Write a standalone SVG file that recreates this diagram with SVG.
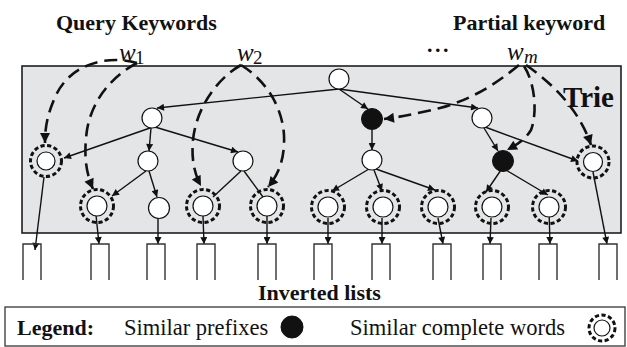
<svg xmlns="http://www.w3.org/2000/svg" width="627" height="347" viewBox="0 0 627 347">
<style>
.t{font-family:"Liberation Serif","Times New Roman",serif;fill:#111}
.bt{font-weight:bold}
.n{fill:#fff;stroke:#111;stroke-width:1.2}
.bk{fill:#111;stroke:#111;stroke-width:1}
.ring{fill:none;stroke:#111;stroke-width:3;stroke-dasharray:4.2 2.5}
.e{stroke:#111;stroke-width:1.4;fill:none;marker-end:url(#a)}
.ln{stroke:#111;stroke-width:1.4;fill:none}
.q{stroke:#111;stroke-width:2.6;fill:none;stroke-dasharray:13 7;marker-end:url(#qa)}
.box{fill:none;stroke:#333;stroke-width:1.4}
</style>
<defs>
<marker id="a" viewBox="0 0 10 10" refX="10" refY="5" markerWidth="9" markerHeight="7" markerUnits="userSpaceOnUse" orient="auto"><path d="M0,0 L10,5 L0,10 z" fill="#111"/></marker>
<marker id="qa" viewBox="0 0 10 10" refX="10" refY="5" markerWidth="11" markerHeight="10" markerUnits="userSpaceOnUse" orient="auto"><path d="M0,0 L10,5 L0,10 z" fill="#111"/></marker>
</defs>
<rect width="627" height="347" fill="#fff"/>
<rect x="22" y="66" width="599" height="167" fill="#e4e5e7" stroke="#111" stroke-width="1.5"/>
<text class="t bt" x="56" y="30" font-size="22">Query Keywords</text>
<text class="t bt" x="453" y="30" font-size="22">Partial keyword</text>
<text class="t bt" x="427" y="52" font-size="22" letter-spacing="2.5">...</text>
<text class="t bt" x="563" y="107" font-size="29">Trie</text>
<g id="w1"><text class="t" x="119" y="61" font-size="25" font-style="italic">w</text><text class="t" x="135" y="64" font-size="19">1</text></g>
<g id="w2"><text class="t" x="237" y="61" font-size="25" font-style="italic">w</text><text class="t" x="253" y="64" font-size="19">2</text></g>
<g id="wm"><text class="t" x="507" y="60" font-size="25" font-style="italic">w</text><text class="t" x="524" y="63" font-size="19" font-style="italic">m</text></g>
<g id="connectors">
<path class="e" d="M339,89 L157,108"/>
<path class="e" d="M339,89 L368,109"/>
<path class="e" d="M339,89 L478,108"/>
<path class="e" d="M150,128 L64,158"/>
<path class="e" d="M151,128 L149,151"/>
<path class="e" d="M155,127 L238,152"/>
<path class="e" d="M372,130 L372,150"/>
<path class="e" d="M484,128 L498,151"/>
<path class="e" d="M485,127 L578,161"/>
<path class="e" d="M146,171 L112,196"/>
<path class="e" d="M149,171 L157,197"/>
<path class="ln" d="M241,171 L213,197"/>
<path class="ln" d="M244,171 L263,197"/>
<path class="e" d="M369,169 L332,191"/>
<path class="e" d="M374,170 L382,191"/>
<path class="e" d="M376,169 L435,190"/>
<path class="e" d="M501,170 L486,192"/>
<path class="e" d="M506,170 L548,195"/>
<path class="e" d="M44,177 L35,250"/>
<path class="e" d="M96,215 L99,244"/>
<path class="e" d="M158,218 L158,244"/>
<path class="e" d="M203,216 L204,244"/>
<path class="e" d="M267,216 L267,244"/>
<path class="e" d="M328,218 L328,244"/>
<path class="e" d="M382,218 L382,244"/>
<path class="e" d="M438,218 L443,244"/>
<path class="e" d="M491,218 L490,244"/>
<path class="e" d="M549,210 L550,244"/>
<path class="e" d="M593,172 L607,244"/>
<path class="q" d="M137,63 C110,55 72,62 56,95 C48,113 45,125 45,143"/>
<path class="q" d="M137,63 C112,76 92,100 87,130 C83,158 87,175 93,189"/>
<path class="q" d="M241,65 C215,80 196,110 193,140 C191,160 195,175 201,186"/>
<path class="q" d="M241,65 C265,80 282,105 284,135 C285,160 278,175 268,187"/>
<path class="q" d="M519,65 C495,85 470,100 440,108 C415,114 400,117 384,119"/>
<path class="q" d="M524,66 C536,85 537,115 531,130 C525,140 516,145 507,150"/>
<path class="q" d="M526,65 Q576,100 591,145"/>
</g>
<g id="root"><circle class="n" cx="339" cy="79" r="10"/></g>
<g id="l1a"><circle class="n" cx="152" cy="118" r="10"/></g>
<g id="b1"><circle class="bk" cx="372" cy="119" r="10.5"/></g>
<g id="l1c"><circle class="n" cx="482" cy="118" r="10"/></g>
<g id="da"><circle class="n" cx="46" cy="161" r="9"/><circle class="ring" cx="46" cy="161" r="15.5"/></g>
<g id="nb"><circle class="n" cx="148" cy="161" r="10"/></g>
<g id="nc"><circle class="n" cx="243" cy="161" r="10"/></g>
<g id="nd"><circle class="n" cx="372" cy="160" r="10"/></g>
<g id="b2"><circle class="bk" cx="503" cy="161" r="10.5"/></g>
<g id="de"><circle class="n" cx="593" cy="162" r="9.5"/><circle class="ring" cx="593" cy="162" r="16"/></g>
<g id="d1"><circle class="n" cx="97" cy="206" r="10"/><circle class="ring" cx="97" cy="206" r="16.5"/></g>
<g id="n2"><circle class="n" cx="159" cy="208" r="10.5"/></g>
<g id="d3"><circle class="n" cx="203" cy="206" r="10"/><circle class="ring" cx="203" cy="206" r="16.5"/></g>
<g id="d4"><circle class="n" cx="267" cy="206" r="10"/><circle class="ring" cx="267" cy="206" r="16.5"/></g>
<g id="d5"><circle class="n" cx="328" cy="207" r="10"/><circle class="ring" cx="328" cy="207" r="16.5"/></g>
<g id="d6"><circle class="n" cx="383" cy="207" r="10"/><circle class="ring" cx="383" cy="207" r="16.5"/></g>
<g id="d7"><circle class="n" cx="438" cy="207" r="10"/><circle class="ring" cx="438" cy="207" r="16.5"/></g>
<g id="d8"><circle class="n" cx="492" cy="207" r="10"/><circle class="ring" cx="492" cy="207" r="16.5"/></g>
<g id="d9"><circle class="n" cx="549" cy="207" r="10"/><circle class="ring" cx="549" cy="207" r="16.5"/></g>
<g id="lists">
<path class="box" d="M23,280 V244 H41 V280"/>
<path class="box" d="M91,280 V244 H109 V280"/>
<path class="box" d="M147,280 V244 H165 V280"/>
<path class="box" d="M197,280 V244 H215 V280"/>
<path class="box" d="M258,280 V244 H276 V280"/>
<path class="box" d="M314,280 V244 H332 V280"/>
<path class="box" d="M372,280 V244 H390 V280"/>
<path class="box" d="M433,280 V244 H451 V280"/>
<path class="box" d="M483,280 V244 H501 V280"/>
<path class="box" d="M539,280 V244 H557 V280"/>
<path class="box" d="M599,280 V244 H617 V280"/>
</g>
<text class="t bt" x="258" y="300" font-size="22">Inverted lists</text>
<g id="legend">
<rect x="5" y="307" width="620" height="39" fill="#fff" stroke="#444" stroke-width="1.4"/>
<text class="t bt" x="17" y="335" font-size="22">Legend:</text>
<text class="t" x="124" y="335" font-size="22.5">Similar prefixes</text>
<circle class="bk" cx="292" cy="327" r="11"/>
<text class="t" x="350" y="335" font-size="22.5">Similar complete words</text>
<circle class="n" cx="602" cy="328" r="8"/>
<circle class="ring" cx="602" cy="328" r="13"/>
</g>
</svg>
